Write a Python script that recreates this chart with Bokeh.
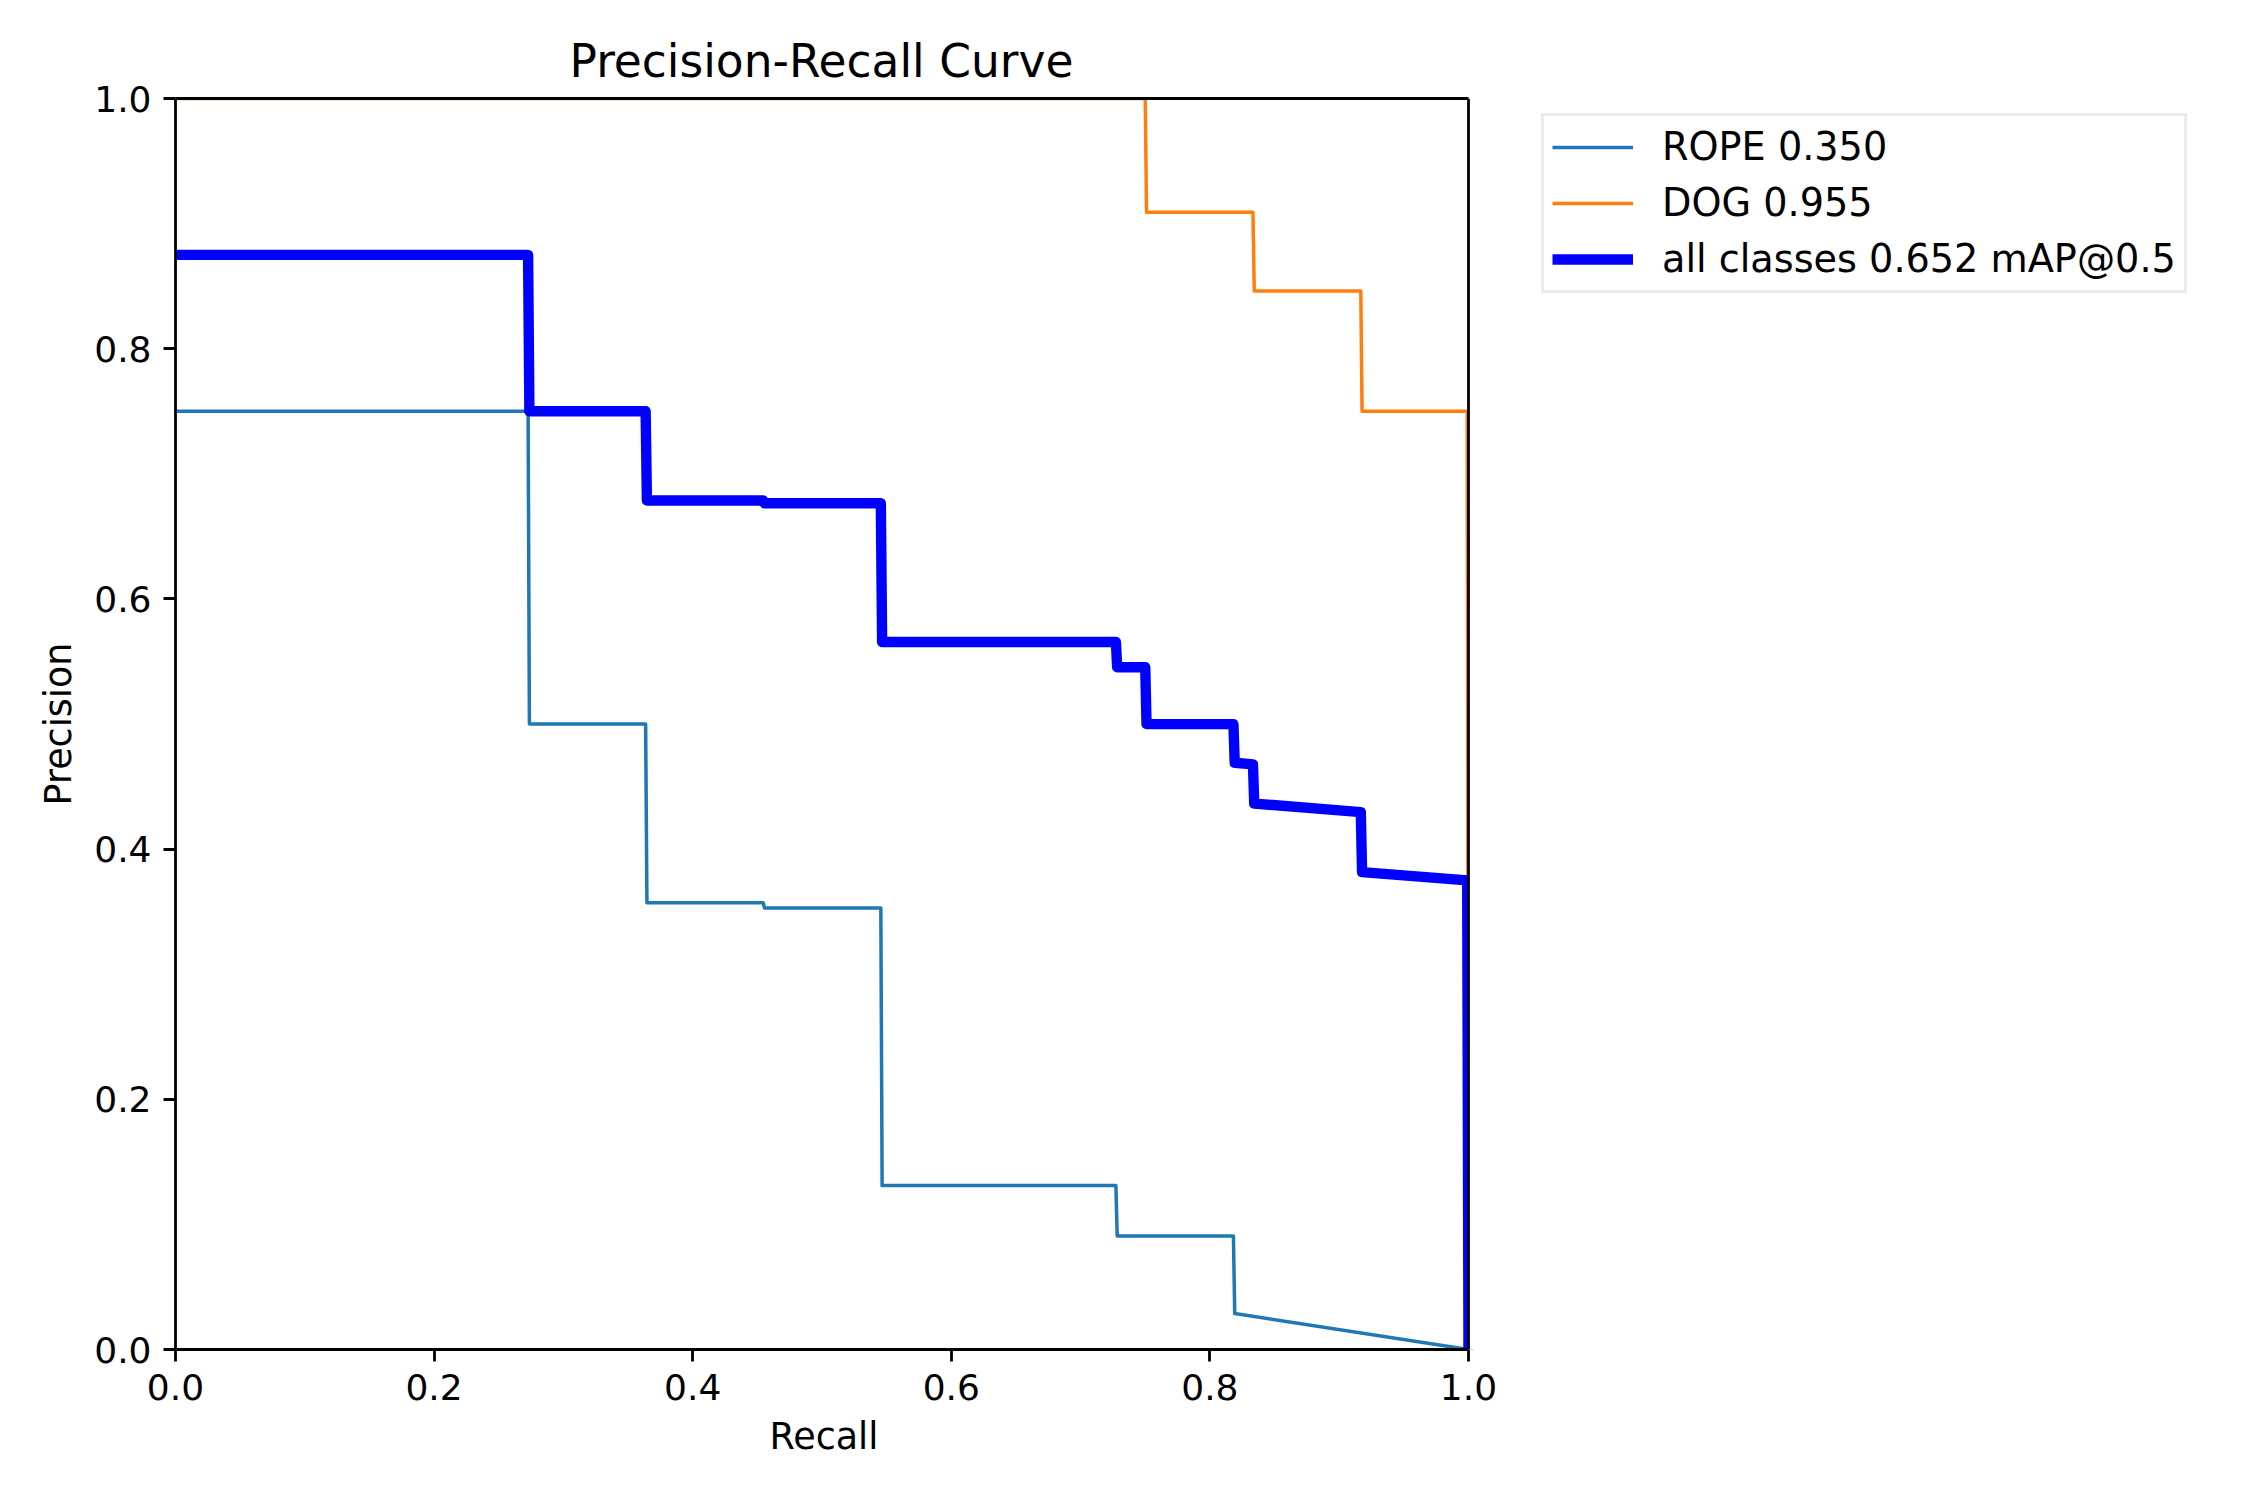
from bokeh.plotting import figure
from bokeh.models import (Range1d, FixedTicker, PrintfTickFormatter, LinearAxis, Legend,
                          LegendItem, Span, BoxAnnotation, Title)
from bokeh.embed import file_html
from bokeh.resources import INLINE

# ---- data ----
rope_recall = [0.0, 0.2727, 0.2737, 0.3636, 0.3646, 0.4545, 0.4555, 0.5455, 0.5465,
               0.7273, 0.7283, 0.8182, 0.8192, 1.0]
rope_precision = [0.75, 0.75, 0.50, 0.50, 0.3571, 0.3571, 0.3529, 0.3529, 0.131,
                  0.131, 0.0907, 0.0907, 0.0287, 0.0]

dog_recall = [0.0, 0.75, 0.751, 0.8333, 0.8343, 0.9167, 0.9177, 0.999, 1.0]
dog_precision = [1.0, 1.0, 0.9091, 0.9091, 0.8462, 0.8462, 0.75, 0.75, 0.0]

all_recall = [0.0, 0.2727, 0.2737, 0.3636, 0.3646, 0.4545, 0.4555, 0.5455, 0.5465,
              0.7273, 0.7283, 0.75, 0.751, 0.8182, 0.8192, 0.8333, 0.8343, 0.9167,
              0.9177, 0.999, 1.0]
all_precision = [0.875, 0.875, 0.75, 0.75, 0.6786, 0.6786, 0.6765, 0.6765, 0.5655,
                 0.5655, 0.5454, 0.5454, 0.4999, 0.4999, 0.469, 0.4677, 0.4364, 0.4296,
                 0.3816, 0.375, 0.0]

labels = ["ROPE 0.350", "DOG 0.955", "all classes 0.652 mAP@0.5"]
ticks = [0.0, 0.2, 0.4, 0.6, 0.8, 1.0]

FONT = "DejaVu Sans"

# layout (pixels)
W, H = 2234, 1484
LEFT, TOP, BOTTOM, RIGHT = 175, 98, 135, 16
AX_W = 1293                     # pixel width of the 0..1 recall axis
frame_w = W - LEFT - RIGHT
x_end = frame_w / AX_W          # extra room on the right holds the legend

p = figure(width=W, height=H, output_backend="svg", toolbar_location=None,
           x_range=Range1d(0, x_end), y_range=Range1d(0, 1),
           min_border_left=LEFT, min_border_right=RIGHT, min_border_top=TOP,
           min_border_bottom=BOTTOM, title="Precision-Recall Curve")
p.background_fill_color = "white"
p.border_fill_color = "white"
p.outline_line_color = None
p.grid.visible = False

p.title.text_font = FONT
p.title.text_font_size = "45.5px"
p.title.text_font_style = "normal"
p.title.align = "left"
p.title.offset = 394
p.title.text_color = "black"
p.title.standoff = 21

r1 = p.line(rope_recall, rope_precision, line_color="#1f77b4", line_width=3.5, line_join="round")
r2 = p.line(dog_recall, dog_precision, line_color="#ff7f0e", line_width=3.5, line_join="round")
r3 = p.line(all_recall, all_precision, line_color="#0000ff", line_width=10.4, line_join="round")

for ax in (p.xaxis[0], p.yaxis[0]):
    ax.ticker = FixedTicker(ticks=ticks)
    ax.formatter = PrintfTickFormatter(format="%.1f")
    ax.minor_tick_line_color = None
    ax.major_tick_in = 0
    ax.major_tick_out = 12
    ax.major_tick_line_width = 2.8
    ax.major_tick_line_color = "black"
    ax.axis_line_width = 2.8
    ax.axis_line_color = "black"
    ax.major_label_text_font = FONT
    ax.major_label_text_font_size = "36px"
    ax.major_label_text_color = "black"
    ax.major_label_standoff = 12
    ax.axis_label_text_font = FONT
    ax.axis_label_text_font_size = "36.5px"
    ax.axis_label_text_font_style = "normal"
    ax.axis_label_text_color = "black"

p.xaxis[0].bounds = (0, 1)
p.yaxis[0].axis_label = "Precision"
p.yaxis[0].axis_label_standoff = 11

# x-axis label, centred under the 0..1 part of the axis
xlabel = Title(text="Recall", align="left", offset=594, standoff=20,
               text_font=FONT, text_font_size="36.5px", text_font_style="normal",
               text_color="black")
p.add_layout(xlabel, "below")

top_axis = LinearAxis(ticker=FixedTicker(ticks=[]), bounds=(0, 1), axis_line_width=2.8,
                      axis_line_color="black", major_tick_line_color=None,
                      minor_tick_line_color=None, major_label_text_color=None)
p.add_layout(top_axis, "above")

# blank out everything right of recall = 1 (matplotlib clips there), then the right spine
p.add_layout(BoxAnnotation(left=1.0, fill_color="white", fill_alpha=1.0, line_color=None))
p.add_layout(Span(location=1.0, dimension="height", line_color="black", line_width=2.8))

legend = Legend(items=[LegendItem(label=labels[0], renderers=[r1]),
                       LegendItem(label=labels[1], renderers=[r2]),
                       LegendItem(label=labels[2], renderers=[r3])],
                location=(1366, 1056))
legend.label_text_font = FONT
legend.label_text_font_size = "38.2px"
legend.label_text_color = "black"
legend.glyph_width = 81
legend.glyph_height = 46
legend.label_height = 46
legend.label_standoff = 29
legend.spacing = 10
legend.padding = 8
legend.margin = 0
legend.border_line_color = "#d6d6d6"
legend.border_line_width = 3.5
legend.background_fill_color = "white"
legend.background_fill_alpha = 0.8
p.add_layout(legend, "center")

open("out.html", "w").write(file_html(p, INLINE))
